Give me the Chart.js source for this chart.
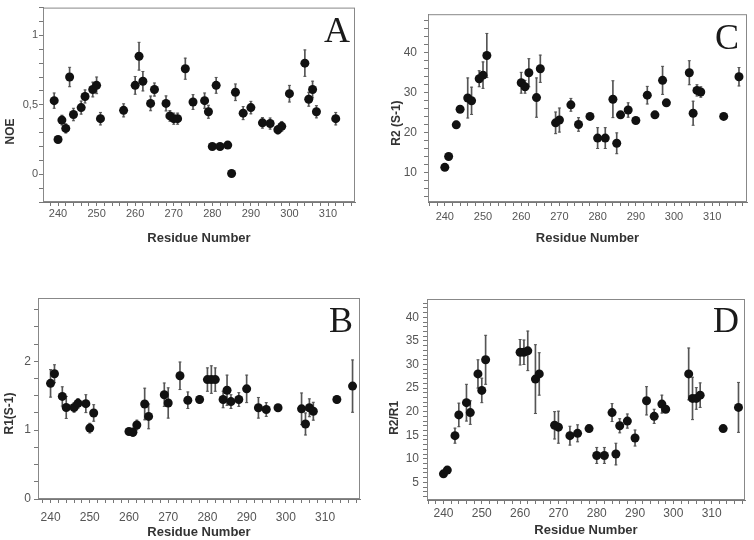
<!DOCTYPE html>
<html>
<head>
<meta charset="utf-8">
<script src="https://cdn.jsdelivr.net/npm/chart.js@4.4.1/dist/chart.umd.min.js"></script>
<style>
  body { margin: 0; background: #fff; }
  #wrap { position: relative; width: 754px; height: 540px; }
  canvas { position: absolute; }
</style>
</head>
<body>
<div id="wrap">
  <canvas id="chartA" width="377" height="250" style="left:0px;top:0px"></canvas>
  <canvas id="chartC" width="377" height="250" style="left:377px;top:0px"></canvas>
  <canvas id="chartB" width="377" height="270" style="left:0px;top:270px"></canvas>
  <canvas id="chartD" width="377" height="270" style="left:377px;top:270px"></canvas>
</div>
<script>
// residue numbers shown on the x axis
const xLabelTicks = [240, 250, 260, 270, 280, 290, 300, 310];

// A: NOE
const resA = [239, 240, 241, 242, 243, 244, 246, 247, 249, 250, 251, 257, 260, 261, 262, 264, 265, 268, 269, 270, 271, 273, 275, 278, 279, 280, 281, 282, 284, 285, 286, 288, 290, 293, 295, 297, 298, 300, 304, 305, 306, 307, 312];
const noeA = [0.53, 0.25, 0.39, 0.33, 0.70, 0.43, 0.48, 0.56, 0.61, 0.64, 0.40, 0.46, 0.64, 0.85, 0.67, 0.51, 0.61, 0.51, 0.42, 0.40, 0.40, 0.76, 0.52, 0.53, 0.45, 0.20, 0.64, 0.20, 0.21, 0.005, 0.59, 0.44, 0.48, 0.37, 0.365, 0.32, 0.345, 0.58, 0.80, 0.54, 0.61, 0.45, 0.40];
const noeErrA = [0.055, 0.02, 0.035, 0.033, 0.07, 0.045, 0.047, 0.047, 0.053, 0.06, 0.045, 0.047, 0.064, 0.1, 0.07, 0.053, 0.047, 0.054, 0.038, 0.04, 0.04, 0.076, 0.053, 0.055, 0.047, 0, 0.057, 0, 0.01, 0, 0.06, 0.047, 0.045, 0.038, 0.04, 0.03, 0.035, 0.06, 0.095, 0.05, 0.06, 0.044, 0.045];
const yTicksA = [0, 0.5, 1];

// B: R1
const resB = [240, 241, 243, 244, 246, 247, 249, 250, 251, 260, 261, 262, 264, 265, 269, 270, 273, 275, 278, 280, 281, 282, 284, 285, 286, 288, 290, 293, 295, 298, 304, 305, 306, 307, 313, 317];
const r1B = [1.68, 1.82, 1.49, 1.33, 1.33, 1.39, 1.385, 1.03, 1.25, 0.98, 0.97, 1.075, 1.38, 1.2, 1.515, 1.395, 1.79, 1.435, 1.445, 1.735, 1.735, 1.735, 1.445, 1.58, 1.415, 1.445, 1.6, 1.325, 1.3, 1.325, 1.31, 1.09, 1.325, 1.275, 1.445, 1.64];
const r1ErrB = [0.2, 0.13, 0.14, 0.16, 0.07, 0.07, 0.13, 0.07, 0.12, 0.03, 0.06, 0.07, 0.23, 0.18, 0.17, 0.22, 0.2, 0.12, 0.05, 0.17, 0.2, 0.17, 0.12, 0.22, 0.1, 0.1, 0.2, 0.15, 0.1, 0.03, 0.23, 0.16, 0.13, 0.13, 0.05, 0.38];
const yTicksB = [0, 1, 2];

// C: R2
const resC = [240, 241, 243, 244, 246, 247, 249, 250, 251, 260, 261, 262, 264, 265, 269, 270, 273, 275, 278, 280, 282, 284, 285, 286, 288, 290, 293, 295, 297, 298, 304, 305, 306, 307, 313, 317];
const r2C = [11.3, 14.0, 21.9, 25.8, 28.6, 27.9, 33.4, 34.3, 39.2, 32.4, 31.4, 34.9, 28.7, 35.9, 22.4, 23.1, 26.9, 22.0, 24.0, 18.6, 18.6, 28.3, 17.3, 24.4, 25.6, 23.0, 29.3, 24.4, 33.0, 27.4, 34.9, 24.8, 30.5, 30.1, 24.0, 33.9];
const r2ErrC = [0.5, 0.5, 0.9, 0.6, 5, 3.4, 2, 3.3, 5.5, 2.6, 1.6, 3.5, 4.9, 3.4, 2.7, 3, 1.6, 1.7, 0.5, 2.6, 2.6, 4.6, 2.6, 0.5, 1.8, 0.5, 2.2, 0.5, 3.5, 0.6, 3, 3, 1.4, 1.3, 0.4, 2.3];
const yTicksC = [10, 20, 30, 40];

// D: R2/R1
const resD = [240, 241, 243, 244, 246, 247, 249, 250, 251, 260, 261, 262, 264, 265, 269, 270, 273, 275, 278, 280, 282, 284, 285, 286, 288, 290, 293, 295, 297, 298, 304, 305, 306, 307, 313, 317];
const ratioD = [6.8, 7.6, 14.9, 19.3, 21.9, 19.8, 28.0, 24.5, 31.0, 32.6, 32.6, 32.9, 26.9, 28.0, 17.1, 16.7, 14.9, 15.4, 16.4, 10.7, 10.7, 19.8, 11.0, 17.0, 18.0, 14.4, 22.3, 19.0, 21.6, 20.5, 28.0, 22.8, 22.8, 23.5, 16.4, 20.9];
const ratioErrD = [0.3, 0.3, 1.6, 2.5, 3.9, 2.5, 3, 2.6, 5.2, 2.7, 2.6, 4.2, 7.3, 4.5, 2.9, 3.4, 2, 1.8, 0.5, 1.7, 1.7, 1.9, 2.3, 1.5, 1.5, 1.7, 3, 1.5, 1.9, 0.5, 5.5, 4.5, 2.3, 2.6, 0.5, 5.3];
const yTicksD = [5, 10, 15, 20, 25, 30, 35, 40];

Chart.defaults.font.family = '"Liberation Sans", Arial, sans-serif';

// box round the plot area plus the panel letter
const panelFrame = {
  id: 'panelFrame',
  afterDatasetsDraw(chart, args, opts) {
    const a = chart.chartArea;
    const ctx = chart.ctx;
    ctx.save();
    ctx.strokeStyle = '#888';
    ctx.lineWidth = 1;
    ctx.strokeRect(a.left + 0.5, a.top + 0.5, a.right - a.left - 1, a.bottom - a.top - 1);
    ctx.fillStyle = '#1a1a1a';
    ctx.font = '36px "Liberation Serif", "Times New Roman", serif';
    ctx.textAlign = 'right';
    ctx.textBaseline = 'alphabetic';
    ctx.fillText(opts.letter, a.right - opts.dx, a.top + opts.dy);
    ctx.restore();
  }
};

function labelFor(list, v, fmt) {
  const t = list.find(t => Math.abs(t - v) < 1e-6);
  return t === undefined ? '' : fmt(t);
}

function makeChart(id, p) {
  const cv = document.getElementById(id);
  const W = cv.width, H = cv.height;
  const pts = p.x.map((x, i) => ({ x: x, y: p.y[i] }));
  const bars = p.x.map((x, i) => ({ x: x, y: [p.y[i] - p.err[i], p.y[i] + p.err[i]] }));
  const caps = p.x.map((x, i) => ({ x: x, y: p.y[i] - p.err[i] }))
    .concat(p.x.map((x, i) => ({ x: x, y: p.y[i] + p.err[i] })));

  new Chart(cv, {
    type: 'scatter',
    data: {
      datasets: [
        { data: pts, pointRadius: 4.5, backgroundColor: '#111', borderWidth: 0, order: 0 },
        { type: 'bar', data: bars, barThickness: 1, backgroundColor: '#555', borderWidth: 0, order: 2 },
        { data: caps, pointStyle: 'line', pointRadius: 1.5, borderColor: '#555', borderWidth: 1, order: 1 }
      ]
    },
    options: {
      responsive: false,
      animation: false,
      events: [],
      layout: { padding: { top: p.area.t, right: W - p.area.r, bottom: 0, left: 0 } },
      plugins: {
        legend: { display: false },
        tooltip: { enabled: false },
        panelFrame: { letter: p.letter, dx: p.letterDx, dy: p.letterDy }
      },
      scales: {
        x: {
          type: 'linear',
          min: p.xMin,
          max: p.xMax,
          offset: false,
          afterFit: s => { s.height = H - p.area.b; },
          grid: { drawOnChartArea: false, offset: false, tickLength: 4, tickColor: '#777' },
          border: { color: '#777' },
          ticks: {
            stepSize: 2,
            autoSkip: false,
            includeBounds: false,
            maxRotation: 0,
            minRotation: 0,
            padding: p.xPad,
            color: '#555',
            font: { size: p.xFont },
            callback: v => labelFor(xLabelTicks, v, String)
          },
          title: {
            display: true,
            text: 'Residue Number',
            color: '#333',
            font: { size: 13, weight: 'bold' },
            padding: { top: 0, bottom: p.xTitlePad }
          }
        },
        y: {
          type: 'linear',
          min: p.yMin,
          max: p.yMax,
          afterFit: s => { s.width = p.area.l; },
          grid: { drawOnChartArea: false, tickLength: 4, tickColor: '#777' },
          border: { color: '#777' },
          ticks: {
            stepSize: p.yStep,
            autoSkip: false,
            includeBounds: false,
            padding: p.yPad,
            color: '#555',
            font: { size: p.yFont },
            callback: v => labelFor(p.yLabels, v, p.fmt)
          },
          title: {
            display: true,
            // trailing spaces push the rotated title down, as in the original
            text: p.yTitle + ' '.repeat(p.yShift),
            color: '#333',
            font: { size: 12, weight: 'bold' },
            padding: { top: p.yTitlePad, bottom: 0 }
          }
        }
      }
    },
    plugins: [panelFrame]
  });
}

makeChart('chartA', {
  x: resA, y: noeA, err: noeErrA,
  area: { l: 43, t: 5, r: 355, b: 202 },
  xMin: 236.1, xMax: 317, xPad: 1.4, xFont: 11, xTitlePad: 4,
  yMin: -0.2, yMax: 1.2, yStep: 0.1, yLabels: yTicksA, yPad: 1, yFont: 11,
  fmt: v => String(v).replace('.', ','),
  yTitle: 'NOE', yShift: 16, yTitlePad: 3.5,
  letter: 'A', letterDx: 5, letterDy: 34
});

makeChart('chartC', {
  x: resC, y: r2C, err: r2ErrC,
  area: { l: 51, t: 4, r: 370, b: 202 },
  xMin: 235.6, xMax: 319.1, xPad: 4.4, xFont: 11, xTitlePad: 4,
  yMin: 2.66, yMax: 49.5, yStep: 2, yLabels: yTicksC, yPad: 7, yFont: 12,
  fmt: String,
  yTitle: 'R2 (S-1)', yShift: 9, yTitlePad: 12.8,
  letter: 'C', letterDx: 8, letterDy: 35
});

makeChart('chartB', {
  x: resB, y: r1B, err: r1ErrB,
  area: { l: 38, t: 28, r: 360, b: 229 },
  xMin: 236.8, xMax: 318.9, xPad: 7, xFont: 12, xTitlePad: 0,
  yMin: 0, yMax: 2.92, yStep: 0.25, yLabels: yTicksB, yPad: 3, yFont: 12,
  fmt: String,
  yTitle: 'R1(S-1)', yShift: 9, yTitlePad: 2.8,
  letter: 'B', letterDx: 7, letterDy: 34
});

makeChart('chartD', {
  x: resD, y: ratioD, err: ratioErrD,
  area: { l: 50, t: 29, r: 368, b: 230 },
  xMin: 235.7, xMax: 318.7, xPad: 2.8, xFont: 12, xTitlePad: 2.2,
  yMin: 1.25, yMax: 43.9, yStep: 1, yLabels: yTicksD, yPad: 4, yFont: 12,
  fmt: String,
  yTitle: 'R2/R1', yShift: 11, yTitlePad: 10.8,
  letter: 'D', letterDx: 6, letterDy: 33
});
</script>
</body>
</html>
